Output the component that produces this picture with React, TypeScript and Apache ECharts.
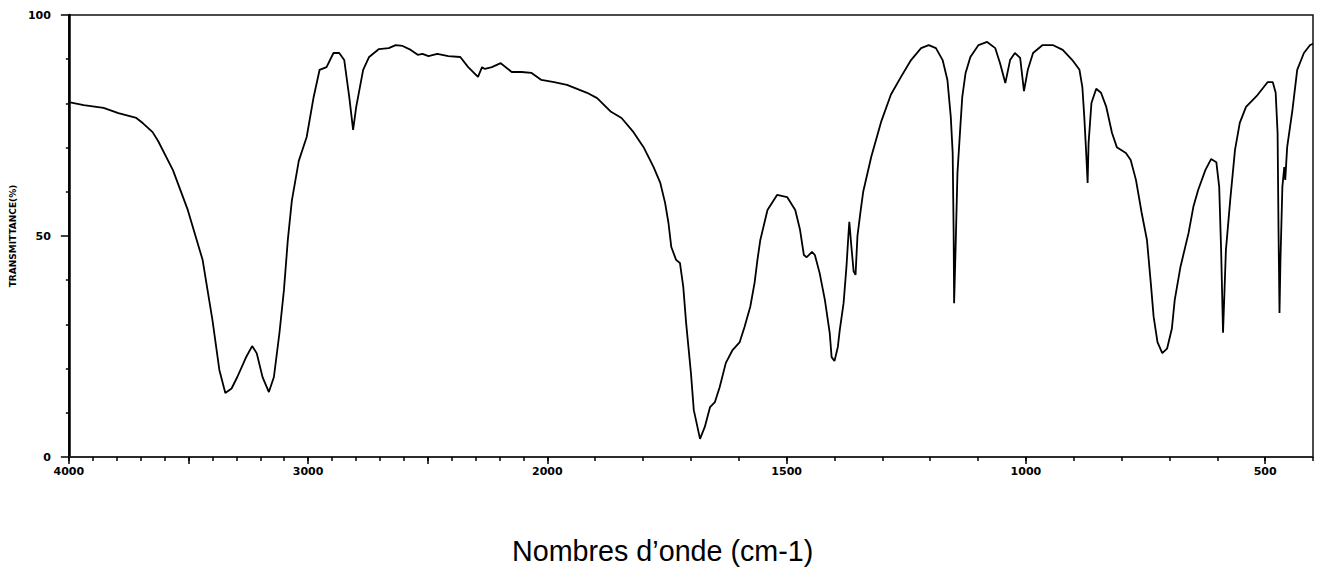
import React, { useEffect, useRef } from "react";
import * as echarts from "echarts";

// Wavenumbers (cm-1) and transmittance (%)
const wavenumbers = [
  4000, 3938, 3855, 3793, 3718, 3690, 3650, 3627, 3565, 3503, 3441, 3400, 3371, 3346, 3320, 3296,
  3260, 3234, 3215, 3190, 3164, 3143, 3120, 3101, 3085, 3068, 3039, 3006, 2977, 2952, 2923, 2894,
  2870, 2849, 2828, 2812, 2799, 2770, 2745, 2704, 2663, 2634, 2605, 2571, 2542, 2522, 2497, 2460,
  2414, 2364, 2331, 2290, 2273, 2261, 2232, 2195, 2149, 2108, 2066, 2025, 1986, 1959, 1917, 1896,
  1867, 1845, 1820, 1799, 1778, 1764, 1754, 1747, 1741, 1731, 1723, 1716, 1710, 1700, 1694, 1681,
  1671, 1660, 1650, 1640, 1627, 1613, 1598, 1588, 1576, 1567, 1561, 1555, 1540, 1520, 1499, 1482,
  1472, 1464, 1458, 1447, 1441, 1431, 1420, 1410, 1406, 1400, 1393, 1389, 1381, 1375, 1371, 1369,
  1365, 1360, 1356, 1352, 1345, 1340, 1323, 1302, 1282, 1261, 1240, 1219, 1203, 1188, 1174, 1164,
  1157, 1153, 1151, 1150, 1147, 1143, 1137, 1133, 1126, 1116, 1099, 1081, 1064, 1054, 1043, 1033,
  1023, 1012, 1004, 996, 985, 965, 944, 923, 903, 888, 882, 878, 874, 871, 869, 863,
  853, 843, 832, 820, 810, 791, 781, 770, 758, 747, 739, 733, 725, 715, 705, 695,
  689, 677, 660, 650, 640, 625, 613, 602, 596, 592, 588, 582, 573, 563, 553, 540,
  516, 495, 484, 478, 474, 472, 470, 468, 464, 460, 458, 454, 443, 433, 419, 406, 400,
];

const transmittance = [
  80.3, 79.6, 79.0, 77.8, 76.7, 75.5, 73.5, 71.5, 64.9, 55.9, 44.6, 31.0, 19.7, 14.5, 15.5, 18.1,
  22.5, 25.1, 23.5, 18.0, 14.7, 18.1, 28.0, 37.8, 49.0, 58.0, 67.0, 72.4, 81.4, 87.6, 88.2, 91.4,
  91.4, 89.8, 81.4, 74.0, 79.2, 87.6, 90.5, 92.3, 92.5, 93.2, 93.0, 92.1, 91.0, 91.2, 90.7, 91.2,
  90.7, 90.5, 88.2, 86.0, 88.2, 87.8, 88.2, 89.1, 87.1, 87.1, 86.9, 85.3, 84.8, 84.2, 82.4, 81.2,
  78.1, 76.7, 73.5, 70.1, 65.6, 62.0, 57.5, 53.0, 47.5, 44.6, 43.9, 38.5, 30.3, 19.0, 10.6, 4.1,
  6.8, 11.3, 12.4, 15.8, 21.3, 24.2, 26.0, 29.4, 34.0, 39.4, 44.6, 49.1, 55.9, 59.3, 58.8, 55.9,
  51.4, 45.7, 45.2, 46.4, 45.7, 41.6, 35.5, 28.1, 22.6, 21.7, 24.9, 28.7, 34.8, 43.0, 50.0, 53.2,
  48.0, 42.0, 41.2, 50.0, 56.0, 60.0, 68.0, 76.0, 82.0, 86.0, 89.8, 92.5, 93.2, 92.5, 89.8, 85.3,
  77.0, 68.8, 50.7, 34.8, 46.8, 64.3, 74.7, 81.4, 86.9, 90.5, 93.2, 93.9, 92.5, 89.1, 84.6, 89.8,
  91.4, 90.3, 82.8, 87.6, 91.4, 93.2, 93.2, 92.1, 89.8, 87.6, 83.7, 77.0, 68.8, 62.0, 71.0, 80.1,
  83.3, 82.4, 79.2, 73.3, 70.1, 68.8, 67.2, 62.7, 55.2, 49.1, 39.4, 31.7, 26.0, 23.5, 24.5, 29.0,
  35.5, 43.0, 50.7, 56.6, 60.4, 64.9, 67.4, 66.7, 61.1, 46.8, 28.1, 46.8, 58.1, 69.5, 75.6, 79.2,
  81.9, 84.8, 84.8, 82.4, 73.3, 50.7, 32.6, 44.6, 61.1, 65.6, 62.7, 70.1, 78.5, 87.6, 91.4, 93.2, 93.5,
];

const majorLabels = [4000, 3000, 2000, 1500, 1000, 500];
const longTicks = [4000, 3500, 3000, 2500, 2000, 1500, 1000, 500];
const minorTickStep = 100;
const yTickLabels = [0, 50, 100];

// Spectrometer scale: above 2000 cm-1 compressed by a factor of 2
const toPos = (w: number) => (w >= 2000 ? (4000 - w) / 2 : 1000 + (2000 - w));
const fromPos = (p: number) => (p <= 1000 ? 4000 - 2 * p : 2000 - (p - 1000));

export default function App() {
  const ref = useRef<HTMLDivElement>(null);

  useEffect(() => {
    if (!ref.current) return;
    const chart = echarts.init(ref.current, null, { renderer: "svg" });

    const minorTicks: number[] = [];
    for (let w = 4000; w >= 400; w -= minorTickStep) minorTicks.push(toPos(w));

    const labelFont = {
      fontFamily: "DejaVu Sans",
      fontWeight: "bold" as const,
      fontSize: 11,
      color: "#000",
    };

    chart.setOption({
      animation: false,
      backgroundColor: "#fff",
      grid: {
        left: 61,
        top: 15,
        width: 1252,
        height: 442,
        show: true,
        borderColor: "#111",
        borderWidth: 1.5,
        containLabel: false,
      },
      xAxis: [
        {
          type: "value",
          min: 0,
          max: toPos(400),
          position: "bottom",
          axisLine: { show: true, lineStyle: { color: "#222", width: 1.5 } },
          axisTick: {
            show: true,
            customValues: minorTicks,
            length: 4,
            lineStyle: { color: "#000", width: 1.5 },
          },
          axisLabel: {
            show: true,
            customValues: majorLabels.map(toPos),
            formatter: (v: number) => String(Math.round(fromPos(v))),
            margin: 9,
            ...labelFont,
          },
          splitLine: { show: false },
        },
        {
          type: "value",
          min: 0,
          max: toPos(400),
          position: "bottom",
          axisLine: { show: false },
          axisTick: {
            show: true,
            customValues: longTicks.map(toPos),
            length: 7,
            lineStyle: { color: "#000", width: 1.5 },
          },
          axisLabel: { show: false, customValues: longTicks.map(toPos) },
          splitLine: { show: false },
        },
      ],
      yAxis: {
        type: "value",
        min: 0,
        max: 100,
        interval: 50,
        name: "TRANSMITTANCE(%)",
        nameLocation: "middle",
        nameRotate: 90,
        nameGap: 47,
        nameTextStyle: {
          fontFamily: "DejaVu Sans",
          fontWeight: "bold",
          fontSize: 9,
          color: "#000",
        },
        axisLine: { show: true, lineStyle: { color: "#000", width: 2.5 } },
        axisTick: { show: true, length: 8, lineStyle: { color: "#000", width: 1.5 } },
        minorTick: { show: true, splitNumber: 5, length: 3, lineStyle: { color: "#000", width: 1.5 } },
        axisLabel: {
          margin: 18,
          formatter: (v: number) => (yTickLabels.includes(v) ? String(v) : ""),
          ...labelFont,
        },
        splitLine: { show: false },
      },
      series: [
        {
          type: "line",
          xAxisIndex: 0,
          data: wavenumbers.map((w, i) => [toPos(w), transmittance[i]]),
          showSymbol: false,
          symbol: "none",
          smooth: false,
          lineStyle: { color: "#000", width: 1.8 },
        },
      ],
      graphic: [
        {
          type: "text",
          left: 512,
          top: 536,
          style: {
            text: "Nombres d\u2019onde (cm-1)",
            fontFamily: "Liberation Sans, Arial, sans-serif",
            fontSize: 28.7,
            fill: "#000",
          },
        },
      ],
    });

    return () => chart.dispose();
  }, []);

  return (
    <div
      ref={ref}
      style={{ position: "absolute", left: 0, top: 0, width: 1317, height: 572 }}
    />
  );
}
